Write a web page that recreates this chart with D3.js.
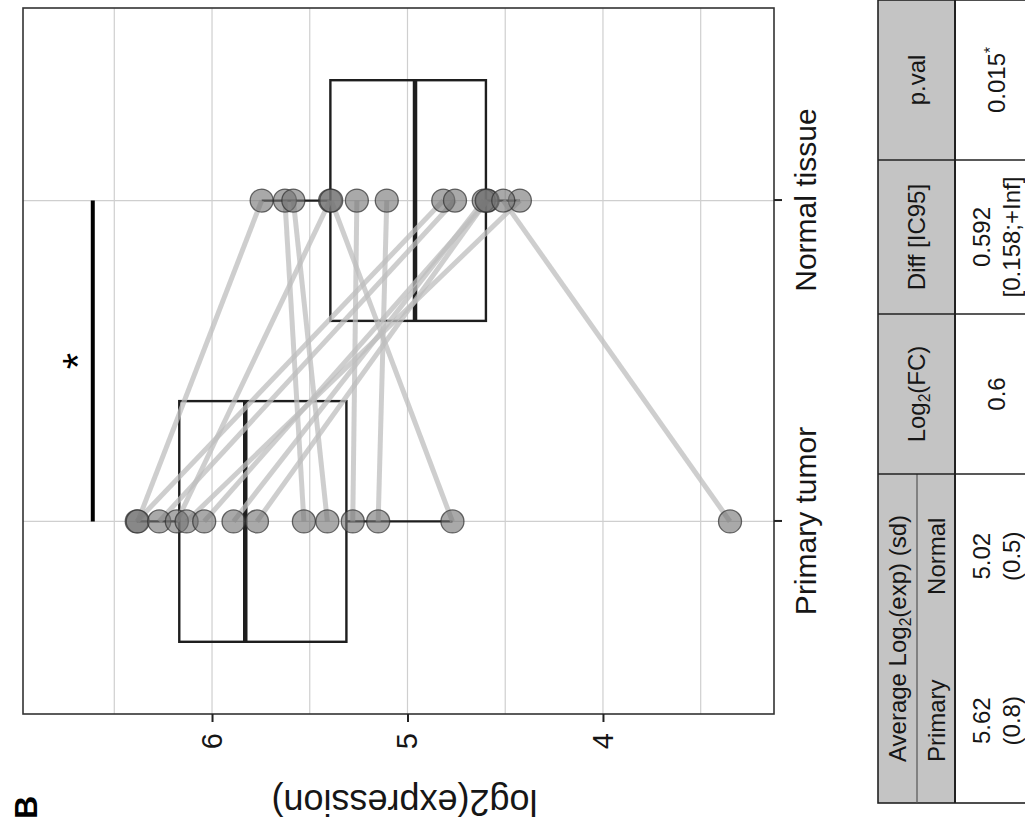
<!DOCTYPE html>
<html>
<head>
<meta charset="utf-8">
<script src="https://cdn.jsdelivr.net/npm/d3@7"></script>
<style>
  body { margin: 0; background: #fff; }
  svg { display: block; }
</style>
</head>
<body>
<svg id="chart" width="1025" height="822"></svg>
<script>
// ---- data ----
const groups = ["Primary tumor", "Normal tissue"];
// paired samples: index i in both arrays is the same patient
const primaryValues = [6.385, 6.38, 6.27, 6.18, 6.13, 6.04, 5.89, 5.77, 5.53, 5.41, 5.28, 5.15, 4.77, 3.35];
const normalValues  = [4.817, 5.746, 4.757, 5.396, 4.425, 4.59, 4.61, 4.595, 5.627, 5.584, 5.259, 5.106, 5.39, 4.51];
const valueTicks = [4, 5, 6];
const minorValueTicks = [3.5, 4.5, 5.5, 6.5];
const valueDomain = [3.125, 6.967];
const signifBracket = [6.61];
const signifLabel = ["*"];
const signifLabelLevel = [6.737];
const axisTitle = ["log2(expression)"];
const panelTag = ["B"];

// summary table (text markup: _{..} subscript, ^{..} superscript)
const tableGroupHeader = ["Average Log_{2}(exp) (sd)"];
const tableSubHeaders = ["Primary", "Normal"];
const tableHeaders = ["Log_{2}(FC)", "Diff [IC95]", "p.val"];
const tableMeans = [["5.62", "(0.8)"], ["5.02", "(0.5)"]];
const tableStats = [["0.6"], ["0.592", "[0.158;+Inf]"], ["0.015^{*}"]];

// ---- layout (drawn upright in an 822 x 1025 frame, then turned a quarter) ----
const FONT = "'Liberation Sans', Arial, Helvetica, sans-serif";
const INK = "#161616";
const svg = d3.select("#chart");
const root = svg.append("g")
  .attr("transform", "translate(0,822) rotate(-90)")
  .attr("font-family", FONT);

const panel = { left: 108, right: 814, top: 23, bottom: 774 };

const x = d3.scaleLinear().domain([0.4, 2.6]).range([panel.left, panel.right]);
const y = d3.scaleLinear().domain(valueDomain).range([panel.bottom, panel.top]);
const gx = i => x(i + 1);

// panel background + grid
root.append("rect")
  .attr("x", panel.left).attr("y", panel.top)
  .attr("width", panel.right - panel.left).attr("height", panel.bottom - panel.top)
  .attr("fill", "#fff");

const grid = root.append("g").attr("stroke", "#cfcfcf").attr("stroke-width", 1.2);
grid.selectAll(".minor").data(minorValueTicks).join("line")
  .attr("x1", panel.left).attr("x2", panel.right)
  .attr("y1", d => y(d)).attr("y2", d => y(d));
grid.selectAll(".major").data(valueTicks).join("line")
  .attr("x1", panel.left).attr("x2", panel.right)
  .attr("y1", d => y(d)).attr("y2", d => y(d));
grid.selectAll(".cat").data(groups).join("line")
  .attr("x1", (d, i) => gx(i)).attr("x2", (d, i) => gx(i))
  .attr("y1", panel.top).attr("y2", panel.bottom);

// box plot statistics (R type-7 quantiles, 1.5 IQR whiskers)
function boxStats(values) {
  const s = values.slice().sort(d3.ascending);
  const q1 = d3.quantile(s, 0.25), med = d3.quantile(s, 0.5), q3 = d3.quantile(s, 0.75);
  const iqr = q3 - q1;
  const lo = d3.min(s.filter(v => v >= q1 - 1.5 * iqr));
  const hi = d3.max(s.filter(v => v <= q3 + 1.5 * iqr));
  return { q1, med, q3, lo, hi };
}
const series = [primaryValues, normalValues];
const stats = series.map(boxStats);
const halfBox = (x(1.375) - x(1));

const boxes = root.append("g").attr("stroke", "#1e1e1e").attr("fill", "none");
stats.forEach((s, i) => {
  const cx = gx(i);
  boxes.append("line").attr("x1", cx).attr("x2", cx)
    .attr("y1", y(s.hi)).attr("y2", y(s.q3)).attr("stroke-width", 2.2);
  boxes.append("line").attr("x1", cx).attr("x2", cx)
    .attr("y1", y(s.q1)).attr("y2", y(s.lo)).attr("stroke-width", 2.2);
  boxes.append("rect")
    .attr("x", cx - halfBox).attr("width", 2 * halfBox)
    .attr("y", y(s.q3)).attr("height", y(s.q1) - y(s.q3))
    .attr("stroke-width", 2.4);
  boxes.append("line").attr("x1", cx - halfBox).attr("x2", cx + halfBox)
    .attr("y1", y(s.med)).attr("y2", y(s.med)).attr("stroke-width", 4.5);
});

// paired lines
root.append("g").selectAll("line").data(primaryValues).join("line")
  .attr("x1", gx(0)).attr("y1", d => y(d))
  .attr("x2", gx(1)).attr("y2", (d, i) => y(normalValues[i]))
  .attr("stroke", "#bdbdbd").attr("stroke-opacity", 0.75).attr("stroke-width", 5);

// points
const pts = root.append("g");
series.forEach((vals, i) => {
  pts.selectAll(null).data(vals).join("circle")
    .attr("cx", gx(i)).attr("cy", d => y(d)).attr("r", 11.5)
    .attr("fill", "#747474").attr("fill-opacity", 0.62)
    .attr("stroke", "#2e2e2e").attr("stroke-opacity", 0.7).attr("stroke-width", 1.3);
});

// panel border
root.append("rect")
  .attr("x", panel.left).attr("y", panel.top)
  .attr("width", panel.right - panel.left).attr("height", panel.bottom - panel.top)
  .attr("fill", "none").attr("stroke", "#333").attr("stroke-width", 1.6);

// value axis
const yAxis = root.append("g").attr("transform", `translate(${panel.left},0)`)
  .call(d3.axisLeft(y).tickValues(valueTicks).tickFormat(d3.format("d")).tickSize(8).tickPadding(11));
yAxis.select(".domain").remove();
yAxis.selectAll(".tick line").attr("stroke", "#222").attr("stroke-width", 2);
yAxis.selectAll(".tick text").attr("font-size", 29).attr("fill", INK).attr("font-family", FONT);

// category axis
const xAxis = root.append("g").attr("transform", `translate(0,${panel.bottom})`)
  .call(d3.axisBottom(x).tickValues([1, 2]).tickFormat(d => groups[d - 1]).tickSize(8).tickPadding(13));
xAxis.select(".domain").remove();
xAxis.selectAll(".tick line").attr("stroke", "#222").attr("stroke-width", 2);
xAxis.selectAll(".tick text").attr("font-size", 30).attr("fill", INK).attr("font-family", FONT);

// axis title
root.append("text")
  .attr("transform", `translate(20,${(panel.top + panel.bottom) / 2 + 6}) rotate(-90)`)
  .attr("text-anchor", "middle").attr("dominant-baseline", "central")
  .attr("font-size", 36).attr("fill", INK)
  .text(axisTitle[0]);

// significance bracket and label
root.append("line")
  .attr("x1", gx(0)).attr("x2", gx(1))
  .attr("y1", y(signifBracket[0])).attr("y2", y(signifBracket[0]))
  .attr("stroke", "#000").attr("stroke-width", 4);
root.append("text")
  .attr("x", (gx(0) + gx(1)) / 2).attr("y", y(signifLabelLevel[0]))
  .attr("dy", "0.58em").attr("text-anchor", "middle")
  .attr("font-size", 42).attr("fill", "#000")
  .text(signifLabel[0]);

// panel tag
root.append("text")
  .attr("x", 3).attr("y", 37)
  .attr("font-size", 32).attr("font-weight", "bold").attr("fill", "#000")
  .text(panelTag[0]);

// ---- summary table ----
function rich(sel, str, size) {
  const re = /([_^])\{([^}]*)\}/g;
  let last = 0, m, shift = 0;
  const push = (txt, s, dyv) => {
    const t = sel.append("tspan").text(txt);
    if (s) t.attr("font-size", s);
    if (dyv) t.attr("dy", dyv);
  };
  while ((m = re.exec(str))) {
    if (m.index > last) { push(str.slice(last, m.index), null, shift ? -shift : 0); shift = 0; }
    const d = m[1] === "_" ? size * 0.22 : -size * 0.38;
    push(m[2], size * 0.65, d - shift);
    shift = d;
    last = re.lastIndex;
  }
  if (last < str.length) push(str.slice(last), null, shift ? -shift : 0);
}

const tbl = { left: 19, right: 822, top: 878, split: 917, headBottom: 955, bottom: 1045 };
const colEdges = [19, 348, 508, 662, 822];
const subSplit = (colEdges[0] + colEdges[1]) / 2;
const TS = 24;

const tg = root.append("g").attr("font-size", TS).attr("fill", INK);
tg.append("rect").attr("x", tbl.left).attr("y", tbl.top)
  .attr("width", tbl.right - tbl.left).attr("height", tbl.headBottom - tbl.top)
  .attr("fill", "#c4c4c4");
tg.append("rect").attr("x", tbl.left).attr("y", tbl.top)
  .attr("width", tbl.right - tbl.left).attr("height", tbl.bottom - tbl.top)
  .attr("fill", "none").attr("stroke", "#222").attr("stroke-width", 1.6);
tg.append("line").attr("x1", tbl.left).attr("x2", tbl.right)
  .attr("y1", tbl.headBottom).attr("y2", tbl.headBottom)
  .attr("stroke", "#222").attr("stroke-width", 2);
tg.append("line").attr("x1", colEdges[0]).attr("x2", colEdges[1])
  .attr("y1", tbl.split).attr("y2", tbl.split)
  .attr("stroke", "#555").attr("stroke-width", 1.2);
tg.selectAll(".vsep").data(colEdges.slice(1, -1)).join("line")
  .attr("x1", d => d).attr("x2", d => d)
  .attr("y1", tbl.top).attr("y2", tbl.bottom)
  .attr("stroke", "#222").attr("stroke-width", 1.6);

// headers
const gh = tg.append("text").attr("x", subSplit).attr("y", (tbl.top + tbl.split) / 2)
  .attr("dy", "0.36em").attr("text-anchor", "middle");
rich(gh, tableGroupHeader[0], TS);
const subCenters = [(colEdges[0] + subSplit) / 2, (subSplit + colEdges[1]) / 2];
tableSubHeaders.forEach((h, i) => {
  tg.append("text").attr("x", subCenters[i]).attr("y", (tbl.split + tbl.headBottom) / 2)
    .attr("dy", "0.36em").attr("text-anchor", "middle").text(h);
});
tableHeaders.forEach((h, i) => {
  const t = tg.append("text").attr("x", (colEdges[i + 1] + colEdges[i + 2]) / 2)
    .attr("y", (tbl.top + tbl.headBottom) / 2).attr("dy", "0.36em").attr("text-anchor", "middle");
  rich(t, h, TS);
});

// values
const valueMid = 996, lineGap = 30;
function cellLines(cx, lines) {
  lines.forEach((ln, k) => {
    const t = tg.append("text").attr("x", cx)
      .attr("y", valueMid + (k - (lines.length - 1) / 2) * lineGap)
      .attr("dy", "0.36em").attr("text-anchor", "middle");
    rich(t, ln, TS);
  });
}
tableMeans.forEach((lines, i) => cellLines(subCenters[i], lines));
tableStats.forEach((lines, i) => cellLines((colEdges[i + 1] + colEdges[i + 2]) / 2, lines));
</script>
</body>
</html>
